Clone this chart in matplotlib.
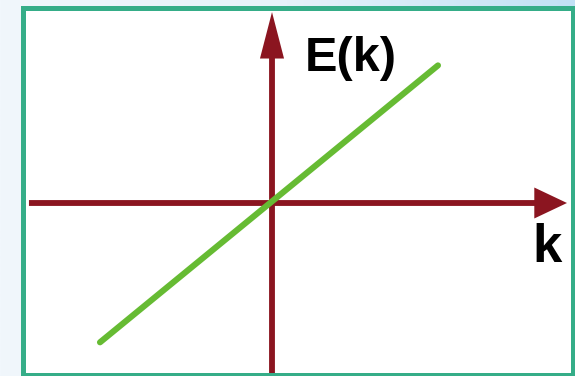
import numpy as np
import matplotlib
matplotlib.use("Agg")
import matplotlib.pyplot as plt
from matplotlib.patches import Rectangle
from matplotlib.colors import LinearSegmentedColormap

# linear dispersion E(k) ~ k, the green line
k_vals = [-1.0, 0.965]
E_vals = [-0.81, 0.80]

axis_label_x = "k"
axis_label_y = "E(k)"

AXIS_RED = "#8b1520"
LINE_GREEN = "#66bb33"
FRAME_TEAL = "#35ad88"

W, H = 575, 376
fig = plt.figure(figsize=(W / 100, H / 100), dpi=100)

# pale blue background with a soft gradient
bg = fig.add_axes([0, 0, 1, 1], zorder=-10)
grad = np.linspace(0, 1, 256).reshape(1, -1)
cmap = LinearSegmentedColormap.from_list("bg", ["#f1f7fc", "#e6f2fa", "#c2e1f5"])
bg.imshow(grad, aspect="auto", cmap=cmap, extent=[0, 1, 0, 1])
bg.axis("off")

# white panel with teal frame
frame = Rectangle((22.5 / W, 0.5 / H), 550 / W, 368 / H, transform=fig.transFigure,
                  facecolor="white", edgecolor=FRAME_TEAL, linewidth=3.6, zorder=-5)
fig.patches.append(frame)

# data axes, 172 px per unit in both directions, origin at (272, 203) px
ox, oy, s = 272, 203, 172
ax = fig.add_axes([0, 0, 1, 1])
ax.set_xlim(-ox / s, (W - ox) / s)
ax.set_ylim(-(H - oy) / s, oy / s)
ax.axis("off")
ax.patch.set_alpha(0)

# axes with arrow heads
ax.arrow(-1.413, 0, 1.715 + 1.413, 0, width=0.034, head_width=0.18, head_length=0.19,
         length_includes_head=True, color=AXIS_RED, lw=0)
ax.arrow(0, -1.02, 0, 1.11 + 1.02, width=0.034, head_width=0.14, head_length=0.27,
         length_includes_head=True, color=AXIS_RED, lw=0)

ax.plot(k_vals, E_vals, color=LINE_GREEN, lw=4.4, solid_capstyle="round")

ax.text(0.19, 0.84, axis_label_y, fontsize=35, fontweight="bold", family="Liberation Sans",
        ha="left", va="center")
ax.text(1.599, -0.259, axis_label_x, fontsize=38, fontweight="bold", family="Liberation Sans",
        ha="center", va="center")

# bottom frame edge sits over the vertical axis
fig.patches.append(Rectangle((22.5 / W, 0), 550 / W, 3.5 / H, transform=fig.transFigure,
                             facecolor=FRAME_TEAL, edgecolor="none", zorder=10))

fig.savefig("out.png", dpi=100)
